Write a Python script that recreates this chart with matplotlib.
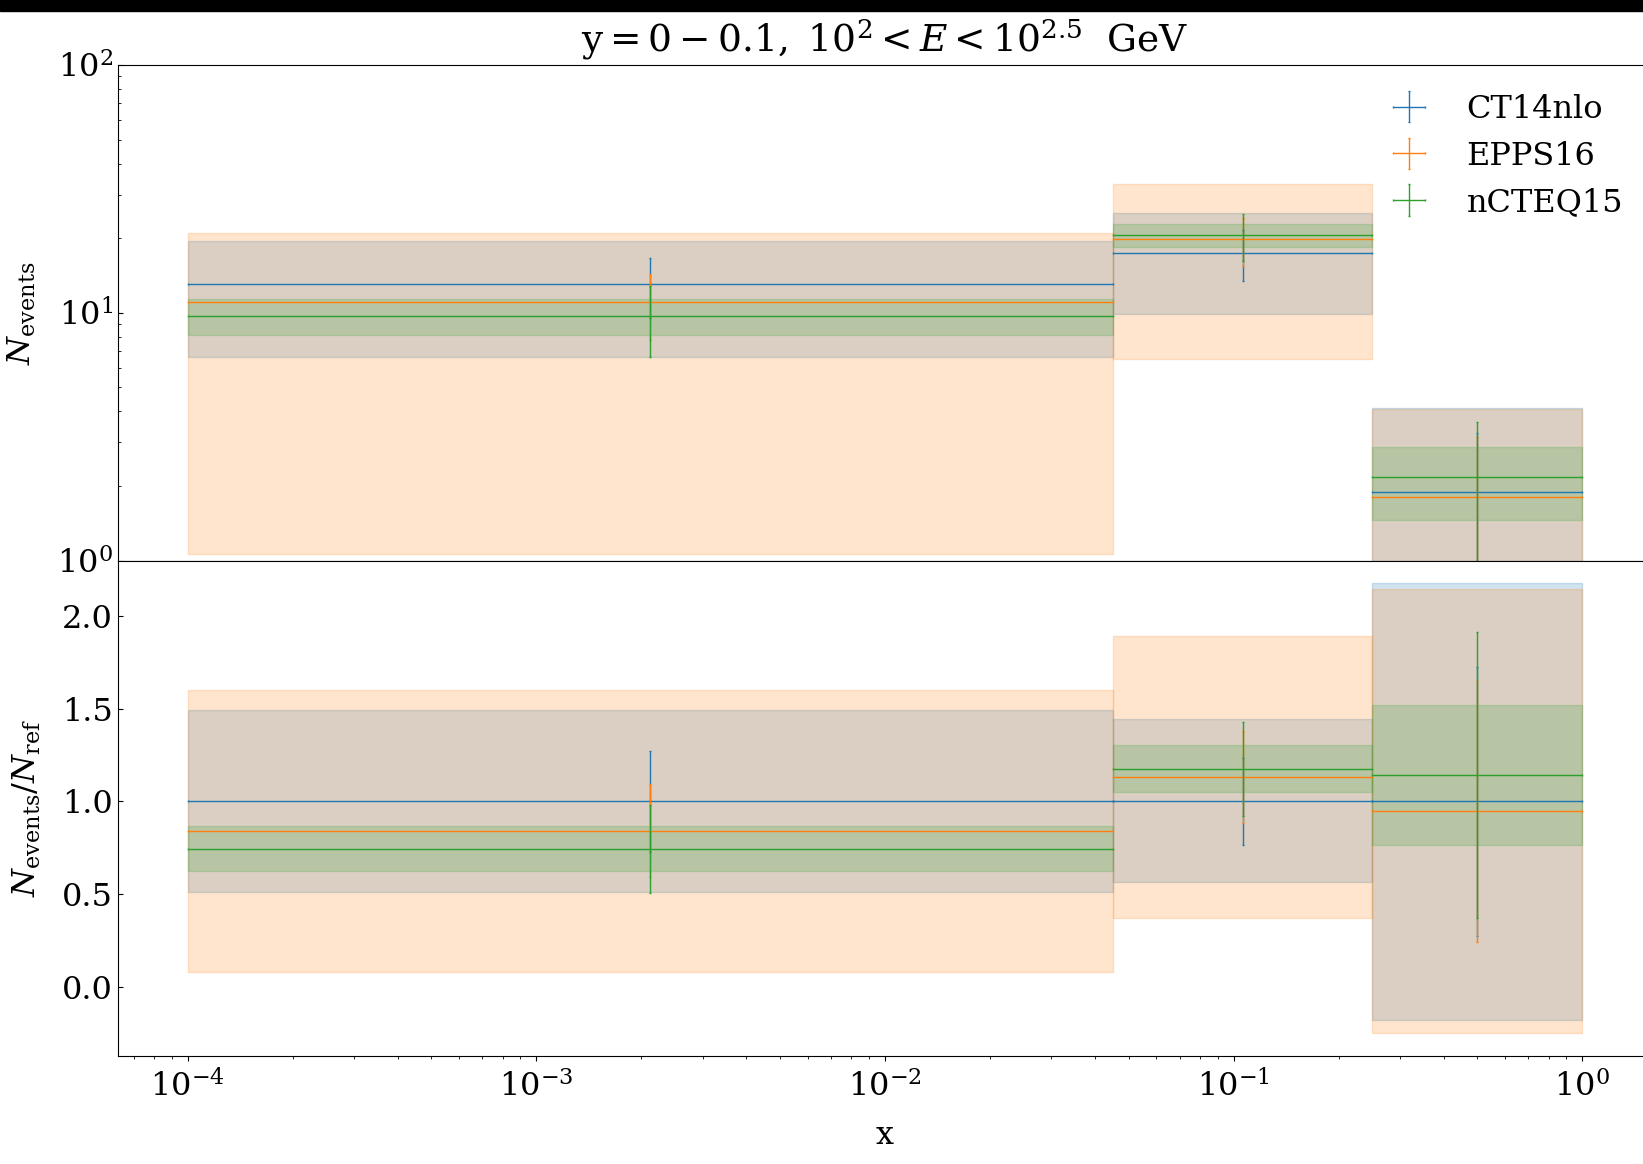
import numpy as np
import matplotlib
matplotlib.use('Agg')
import matplotlib.pyplot as plt
from matplotlib.patches import Rectangle

plt.rcParams.update({
    'font.family': 'serif',
    'font.serif': ['DejaVu Serif'],
    'mathtext.fontset': 'dejavuserif',
    'font.size': 23,
    'xtick.labelsize': 23,
    'ytick.labelsize': 23,
    'ytick.direction': 'in',
    'xtick.major.pad': 7,
    'xtick.minor.pad': 7,
})

# x bins
x_edges = np.array([1e-4, 0.045, 0.25, 1.0])

# PDF sets
labels = ["CT14nlo", "EPPS16", "nCTEQ15"]
colors = ["C0", "C1", "C2"]

# number of events (central value) per bin
n_ct14 = [13.07, 17.5, 1.90]
n_epps = [11.02, 19.8, 1.80]
n_ncteq = [9.70, 20.6, 2.17]

# error bars
err_ct14 = [3.55, 4.10, 1.38]
err_epps = [3.25, 4.35, 1.34]
err_ncteq = [3.10, 4.45, 1.47]

# uncertainty bands (low / high)
lo_ct14 = [6.65, 9.86, -0.34]
hi_ct14 = [19.5, 25.3, 4.14]
lo_epps = [1.06, 6.51, -0.48]
hi_epps = [20.9, 33.1, 4.08]
lo_ncteq = [8.13, 18.4, 1.457]
hi_ncteq = [11.36, 22.8, 2.886]

central = [n_ct14, n_epps, n_ncteq]
errs = [err_ct14, err_epps, err_ncteq]
lows = [lo_ct14, lo_epps, lo_ncteq]
highs = [hi_ct14, hi_epps, hi_ncteq]

# reference set for the ratio
n_ref = np.array(n_ct14)

x_lo = x_edges[:-1]
x_hi = x_edges[1:]
x_c = np.sqrt(x_lo * x_hi)
xerr = [x_c - x_lo, x_hi - x_c]

fig = plt.figure(figsize=(16.43, 11.64), dpi=100)
ax1 = fig.add_axes([0.0718, 0.5184, 0.9337, 0.4258])
ax2 = fig.add_axes([0.0718, 0.0928, 0.9337, 0.4256], sharex=ax1)

# ==========================
# bands
# ==========================
for lo, hi, c in zip(lows, highs, colors):
    for i in range(len(x_lo)):
        ax1.fill_between([x_lo[i], x_hi[i]], lo[i], hi[i], color=c, alpha=0.2)
        ax2.fill_between([x_lo[i], x_hi[i]], lo[i] / n_ref[i], hi[i] / n_ref[i],
                         color=c, alpha=0.2)

# ==========================
# central values with error bars
# ==========================
for n, e, c, lab in zip(central, errs, colors, labels):
    n = np.array(n)
    e = np.array(e)
    ax1.errorbar(x_c, n, xerr=xerr, yerr=e, fmt='none', ecolor=c,
                 elinewidth=1, capsize=1, label=lab)
    ax2.errorbar(x_c, n / n_ref, xerr=xerr, yerr=e / n_ref, fmt='none',
                 ecolor=c, elinewidth=1, capsize=1)

ax1.set_xscale('log')
ax1.set_yscale('log')
ax1.set_ylim(1, 100)
ax1.tick_params(axis='x', which='both', bottom=False, labelbottom=False)
ax1.set_ylabel(r'$N_{\rm events}$', labelpad=14)
ax1.set_title(r'$\mathrm{y=0-0.1,\ 10^2<}E\mathrm{<10^{2.5}\ \ GeV}$',
              fontsize=27, pad=10)
ax1.legend(loc='upper right', frameon=False, fontsize=23)

ax2.set_ylabel(r'$N_{\rm events}/N_{\rm ref}$', labelpad=14)
ax2.set_xlabel('x', labelpad=12)

# black strip at the top of the figure
fig.add_artist(Rectangle((0, 1 - 11 / 1164), 1, 11 / 1164,
                         transform=fig.transFigure, color='black'))

plt.savefig('out.png', dpi=100)
